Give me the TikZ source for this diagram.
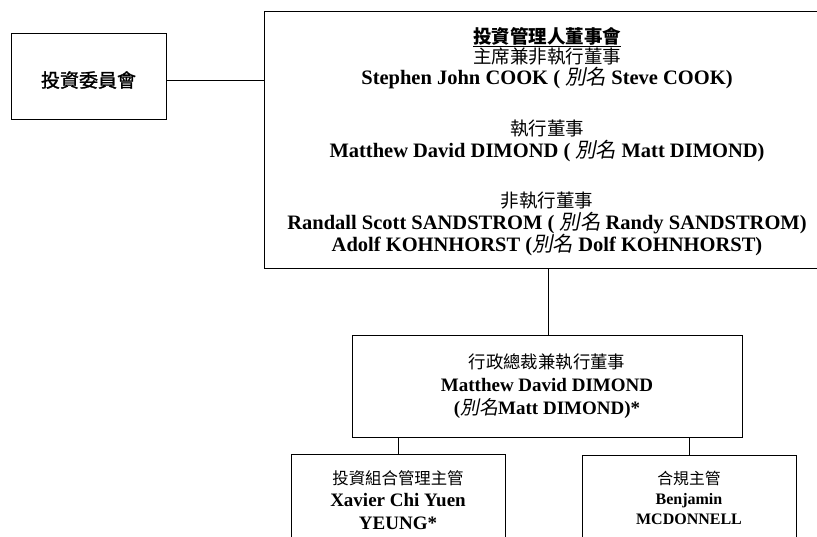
\documentclass[tikz,border=0pt]{standalone}
\usepackage{fontspec}
\setmainfont{Liberation Serif}
\newfontfamily\cjk{Noto Sans CJK TC}
\newfontfamily\cjkmed{Noto Sans CJK TC}[FakeBold=1.3]
\newfontfamily\cjksl{Noto Sans CJK TC}[FakeSlant=0.2]
\newcommand{\aliasmark}{{\cjksl\mdseries 別名}}
\newcommand{\cjkline}[2]{{\cjk\mdseries\fontsize{#1}{21.5}\selectfont #2}}
\begin{document}
\begin{tikzpicture}[
    x = 1pt, y = -1pt,
    every node/.append style = {align = center},
    org box/.style = {draw, line width=0.8pt, inner sep=0pt},
    name lbl/.style = {inner sep=0pt, font=\fontsize{19}{21.5}\selectfont\bfseries},
    board lbl/.style = {inner sep=0pt, font=\fontsize{20.5}{22}\selectfont\bfseries},
    small lbl/.style = {inner sep=0pt, font=\fontsize{16}{20}\selectfont\bfseries},
    every path/.append style = {line width=0.8pt}
]
\useasboundingbox (0,0) rectangle (817,536);

% boxes
\node[org box, minimum width=155pt, minimum height=86pt] (invcom) at (88.5,76) {};
\node[org box, minimum width=568pt, minimum height=257pt] (board) at (548,139.5) {};
\node[org box, minimum width=390pt, minimum height=102pt] (ceo) at (547,386) {};
\node[org box, minimum width=214pt, minimum height=166pt] (pm) at (398,537) {};
\node[org box, minimum width=214pt, minimum height=166pt] (comp) at (689,538) {};

% connectors
\draw ([yshift=-4pt]invcom.east) -- ([yshift=-4pt]invcom.east -| board.west);
\draw (board.south) -- (board.south |- ceo.north);
\draw (pm.north) -- (pm.north |- ceo.south);
\draw (comp.north) -- (comp.north |- ceo.south);

% texts
\node[inner sep=0pt, font=\fontsize{19}{19}\selectfont\cjkmed] (invlbl) at (88.5,80) {投資委員會};

\node[board lbl, font=\fontsize{20.5}{20.5}\selectfont\bfseries] (chair) at (547,58)
    {{\cjk\bfseries\fontsize{18.5}{20.5}\selectfont\underline{投資管理人董事會}} \\
     \cjkline{18.5}{主席兼非執行董事} \\
     Stephen John COOK ( \aliasmark\ Steve COOK)};
\node[board lbl] (exec) at (547,141)
    {\cjkline{18.5}{執行董事} \\ Matthew David DIMOND ( \aliasmark\ Matt DIMOND)};
\node[board lbl] (nonexec) at (547,224)
    {\cjkline{18.5}{非執行董事} \\
     Randall Scott SANDSTROM ( \aliasmark\ Randy SANDSTROM) \\
     Adolf KOHNHORST (\aliasmark\ Dolf KOHNHORST)};

\node[name lbl, font=\fontsize{19}{23}\selectfont\bfseries] (ceolbl) at (547,386)
    {\cjkline{17.4}{行政總裁兼執行董事} \\ Matthew David DIMOND \\ (\aliasmark Matt DIMOND)*};

\node[name lbl, font=\fontsize{19}{22.5}\selectfont\bfseries] (pmlbl) at (398,500)
    {\cjkline{16.4}{投資組合管理主管} \\ Xavier Chi Yuen \\ YEUNG*};
\node[small lbl] (complbl) at (689,498)
    {\cjkline{15.8}{合規主管} \\ Benjamin \\ MCDONNELL};

\end{tikzpicture}
\end{document}
